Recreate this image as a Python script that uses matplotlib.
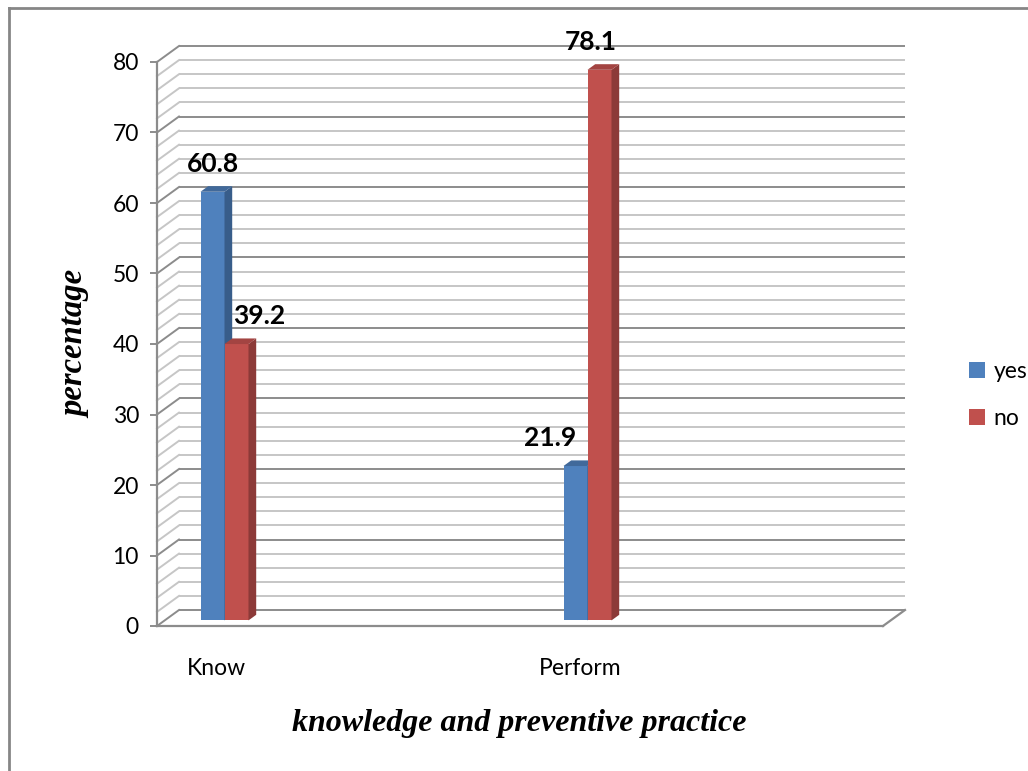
import matplotlib
matplotlib.use("Agg")
import matplotlib.pyplot as plt
from matplotlib.patches import Polygon, Rectangle, Patch
import numpy as np

# ---- data ----
categories = ["Know", "Perform"]
series_names = ["yes", "no"]
yes_values = [60.8, 21.9]
no_values = [39.2, 78.1]

face_colors = ["#4F81BD", "#C0504D"]
side_colors = ["#385D8A", "#8C3A38"]
top_colors = ["#41699A", "#A34442"]

# label nudges (points) so the value labels do not collide
label_dx = {(0, 0): 0, (0, 1): 16, (1, 0): -18, (1, 1): -6}

plt.rcParams["font.family"] = ["Lato", "DejaVu Sans"]

fig = plt.figure(figsize=(10.28, 7.71), dpi=100)
W, H = 1028, 771
ax = fig.add_axes([157 / W, (H - 626) / H, (883 - 157) / W, (626 - 62) / H])

px_per_unit = 363.0
x_lo = (157 - 216.8) / px_per_unit
x_hi = (883 - 216.8) / px_per_unit
ax.set_xlim(x_lo, x_hi)
ax.set_ylim(0, 80)

# depth of the 3d box, in data units
DX = 22 / px_per_unit
DY = 16 / 7.05

grid_minor = "#C6C6C6"
grid_major = "#8C8C8C"

for v in np.arange(0, 81, 2):
    col = grid_major if v % 10 == 0 else grid_minor
    lw = 1.4
    ax.plot([x_lo + DX, x_hi + DX], [v + DY, v + DY], color=col, lw=lw,
            clip_on=False, zorder=1, solid_capstyle="butt")
    ax.plot([x_lo, x_lo + DX], [v, v + DY], color=col, lw=lw,
            clip_on=False, zorder=1)

# floor right edge
ax.plot([x_hi, x_hi + DX], [0, DY], color=grid_major, lw=1.6, clip_on=False, zorder=1)

# ---- bars ----
w = 24 / px_per_unit
d0, d1 = 0.35, 0.7
values = [yes_values, no_values]

for i in range(len(categories)):
    for j in range(len(series_names)):
        v = values[j][i]
        x0 = i - w + j * w + d0 * DX
        y0 = d0 * DY
        ex = (d1 - d0) * DX
        ey = (d1 - d0) * DY
        z = 3 + i * 2 + j
        ax.add_patch(Rectangle((x0, y0), w, v, facecolor=face_colors[j],
                               edgecolor="none", clip_on=False, zorder=z))
        ax.add_patch(Polygon([(x0 + w, y0), (x0 + w + ex, y0 + ey),
                              (x0 + w + ex, y0 + v + ey), (x0 + w, y0 + v)],
                             closed=True, facecolor=side_colors[j],
                             edgecolor="none", clip_on=False, zorder=z))
        ax.add_patch(Polygon([(x0, y0 + v), (x0 + w, y0 + v),
                              (x0 + w + ex, y0 + v + ey), (x0 + ex, y0 + v + ey)],
                             closed=True, facecolor=top_colors[j],
                             edgecolor="none", clip_on=False, zorder=z))
        ax.annotate(f"{v:g}", xy=(x0 + w / 2, y0 + v), xytext=(label_dx[(i, j)], 20),
                    textcoords="offset points", ha="center", va="center",
                    fontsize=19, fontweight="bold", color="black",
                    zorder=10, annotation_clip=False)

# ---- axes ----
for s in ["top", "right"]:
    ax.spines[s].set_visible(False)
for s in ["left", "bottom"]:
    ax.spines[s].set_color(grid_major)
    ax.spines[s].set_linewidth(1.6)
ax.set_yticks(range(0, 81, 10))
ax.tick_params(axis="y", length=5, width=1.4, color=grid_major, labelsize=16.5, pad=8)
ax.set_xticks(range(len(categories)))
ax.set_xticklabels(categories)
ax.tick_params(axis="x", length=0, labelsize=16.5, pad=23)
ax.set_facecolor("none")

fig.text(76 / W, 1 - 344 / H, "percentage", rotation=90, ha="center", va="center",
         fontsize=23.5, fontweight="bold", fontstyle="italic", family="Liberation Serif")
fig.text(519 / W, 1 - 724 / H, "knowledge and preventive practice", ha="center",
         va="center", fontsize=23, fontweight="bold", fontstyle="italic",
         family="Liberation Serif")

handles = [Patch(facecolor=c, edgecolor="none") for c in face_colors]
fig.legend(handles, series_names, loc="center left",
           bbox_to_anchor=(948 / W, 1 - 395 / H), frameon=False, fontsize=16.5,
           handlelength=0.7, handleheight=0.7, handletextpad=0.4, labelspacing=1.1)

# chart border
fig.add_artist(plt.Line2D([9 / W, 9 / W], [0, 1 - 8 / H], color="#868686", lw=2))
fig.add_artist(plt.Line2D([9 / W, 1], [1 - 8 / H, 1 - 8 / H], color="#868686", lw=2))

fig.savefig("out.png", dpi=100)
